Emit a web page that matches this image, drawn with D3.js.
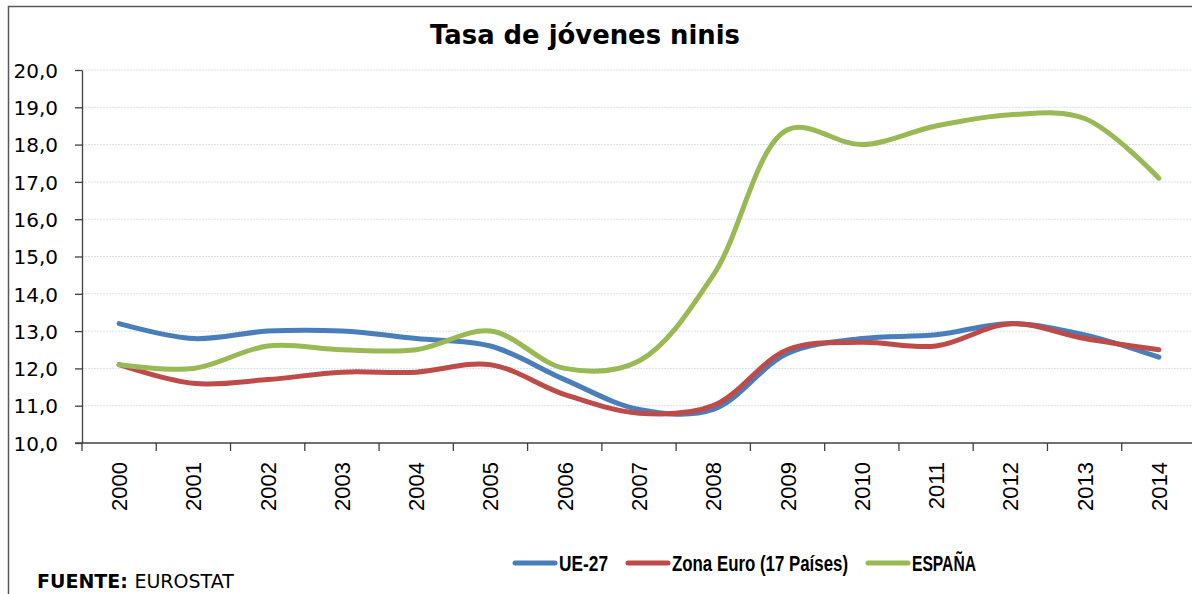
<!DOCTYPE html>
<html>
<head>
<meta charset="utf-8">
<script src="https://cdn.jsdelivr.net/npm/d3@7"></script>
<style>
  body { margin: 0; background: #fff; }
  svg { display: block; }
</style>
</head>
<body>
<div id="chart"></div>
<script>
const years = ["2000","2001","2002","2003","2004","2005","2006","2007","2008","2009","2010","2011","2012","2013","2014"];
const ue27 = [13.2, 12.8, 13.0, 13.0, 12.8, 12.6, 11.7, 10.9, 10.9, 12.4, 12.8, 12.9, 13.2, 12.9, 12.3];
const zonaEuro = [12.1, 11.6, 11.7, 11.9, 11.9, 12.1, 11.3, 10.8, 11.0, 12.5, 12.7, 12.6, 13.2, 12.8, 12.5];
const espana = [12.1, 12.0, 12.6, 12.5, 12.5, 13.0, 12.0, 12.2, 14.5, 18.4, 18.0, 18.5, 18.8, 18.7, 17.1];
const yTicks = [10, 11, 12, 13, 14, 15, 16, 17, 18, 19, 20];

const series = [
    { name: "UE-27", values: ue27, color: "#4a7ebb" },
    { name: "Zona Euro (17 Países)", values: zonaEuro, color: "#be4b48" },
    { name: "ESPAÑA", values: espana, color: "#98b954" }
];

const width = 1192, height = 594;
const margin = { top: 70, right: -4, bottom: 151, left: 82 };
const innerW = width - margin.left - margin.right;
const innerH = height - margin.top - margin.bottom;

const svg = d3.select("#chart").append("svg")
    .attr("width", width)
    .attr("height", height);

// outer frame (left + top, right edge cropped)
svg.append("path")
    .attr("d", "M8.5," + height + " V6.5 H" + width)
    .attr("fill", "none")
    .attr("stroke", "#595959")
    .attr("stroke-width", 1.5);

svg.append("text")
    .attr("x", 585)
    .attr("y", 44)
    .attr("text-anchor", "middle")
    .style("font-family", "'DejaVu Sans', Verdana, sans-serif")
    .style("font-weight", "bold")
    .style("font-size", "26px")
    .attr("textLength", 310)
    .attr("lengthAdjust", "spacingAndGlyphs")
    .text("Tasa de jóvenes ninis");

const g = svg.append("g")
    .attr("transform", "translate(" + margin.left + "," + margin.top + ")");

const x = d3.scaleBand().domain(years).range([0, innerW]);
const y = d3.scaleLinear().domain([10, 20]).range([innerH, 0]);

// gridlines
g.append("g")
    .selectAll("line")
    .data(yTicks.slice(1))
    .enter().append("line")
    .attr("x1", 0)
    .attr("x2", innerW)
    .attr("y1", d => y(d))
    .attr("y2", d => y(d))
    .attr("stroke", "#d3e0f0")
    .attr("stroke-width", 1)
    .attr("stroke-dasharray", "2,1");

// y axis
const yAxis = g.append("g")
    .call(d3.axisLeft(y).tickValues(yTicks).tickSize(7).tickSizeOuter(0)
        .tickFormat(d => d3.format(".1f")(d).replace(".", ",")));
yAxis.selectAll("line, path").attr("stroke", "#404040").attr("stroke-width", 1.3);
yAxis.selectAll("text")
    .attr("x", -24)
    .attr("dy", "0.36em")
    .style("font-family", "'DejaVu Sans', Verdana, sans-serif")
    .style("font-size", "20px")
    .attr("fill", "#000");

// x axis
const xAxisG = g.append("g")
    .attr("transform", "translate(0," + innerH + ")");
xAxisG.append("line")
    .attr("x1", -7).attr("x2", innerW)
    .attr("stroke", "#404040").attr("stroke-width", 1.3);
xAxisG.selectAll(".tick")
    .data(years)
    .enter().append("line")
    .attr("x1", d => x(d)).attr("x2", d => x(d))
    .attr("y1", 0).attr("y2", 8)
    .attr("stroke", "#404040").attr("stroke-width", 1.3);
xAxisG.selectAll(".lbl")
    .data(years)
    .enter().append("text")
    .attr("transform", d => "translate(" + (x(d) + x.bandwidth() / 2 + 8) + ",19) rotate(-90)")
    .attr("text-anchor", "end")
    .style("font-family", "'Liberation Sans', Arial, sans-serif")
    .style("font-size", "22px")
    .text(d => d);

// lines
const line = d3.line()
    .x((d, i) => x(years[i]) + x.bandwidth() / 2)
    .y(d => y(d))
    .curve(d3.curveCatmullRom.alpha(0.5));

g.selectAll(".series")
    .data(series)
    .enter().append("path")
    .attr("fill", "none")
    .attr("stroke", d => d.color)
    .attr("stroke-width", 5)
    .attr("stroke-linecap", "round")
    .attr("d", d => line(d.values));

// legend
const legendPos = [515, 628, 868];
const legendTextW = [49, 176, 64];
const legend = svg.append("g");
series.forEach((s, i) => {
    const lx = legendPos[i];
    legend.append("line")
        .attr("x1", lx).attr("x2", lx + 40)
        .attr("y1", 563).attr("y2", 563)
        .attr("stroke", s.color)
        .attr("stroke-width", 5)
        .attr("stroke-linecap", "round");
    legend.append("text")
        .attr("x", lx + 44)
        .attr("y", 571)
        .style("font-family", "'Liberation Sans', Arial, sans-serif")
        .style("font-weight", "bold")
        .style("font-size", "22px")
        .attr("textLength", legendTextW[i])
        .attr("lengthAdjust", "spacingAndGlyphs")
        .text(s.name);
});

// source
const src = svg.append("text")
    .attr("x", 37)
    .attr("y", 588)
    .style("font-family", "'DejaVu Sans', Verdana, sans-serif")
    .style("font-size", "19px");
src.append("tspan").style("font-weight", "bold").text("FUENTE: ");
src.append("tspan").text("EUROSTAT");
</script>
</body>
</html>
